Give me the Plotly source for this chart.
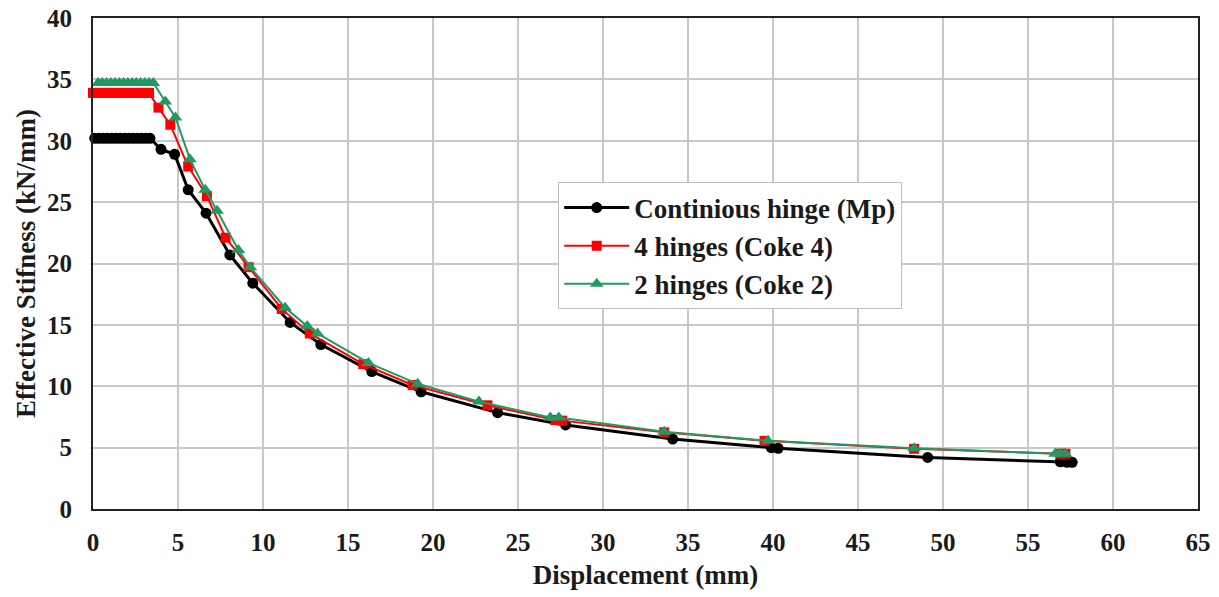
import plotly.graph_objects as go

# Continious hinge (Mp)
mp_x = [0.1, 0.35, 0.6, 0.85, 1.1, 1.35, 1.6, 1.85, 2.1, 2.35, 2.6, 2.85, 3.1, 3.35,
        4.0, 4.8, 5.6, 6.65, 8.05, 9.4, 11.6, 13.4, 16.4, 19.3, 23.8, 27.8, 34.1,
        39.9, 40.3, 49.1, 56.9, 57.3, 57.6]
mp_y = [30.2, 30.2, 30.2, 30.2, 30.2, 30.2, 30.2, 30.2, 30.2, 30.2, 30.2, 30.2, 30.2, 30.2,
        29.3, 28.9, 26.0, 24.1, 20.7, 18.4, 15.2, 13.4, 11.2, 9.55, 7.85, 6.85, 5.7,
        5.0, 4.95, 4.2, 3.85, 3.8, 3.8]

# 4 hinges (Coke 4)
c4_x = [0.0, 0.3, 0.6, 0.9, 1.2, 1.5, 1.8, 2.1, 2.4, 2.7, 3.0, 3.3,
        3.85, 4.55, 5.6, 6.7, 7.8, 9.15, 11.1, 12.75, 15.9, 18.8, 23.2, 27.2, 27.6,
        33.6, 39.5, 48.3, 56.9, 57.2]
c4_y = [33.9, 33.9, 33.9, 33.9, 33.9, 33.9, 33.9, 33.9, 33.9, 33.9, 33.9, 33.9,
        32.7, 31.3, 27.9, 25.5, 22.1, 19.7, 16.3, 14.3, 11.8, 10.1, 8.45, 7.25, 7.2,
        6.25, 5.55, 4.9, 4.5, 4.5]

# 2 hinges (Coke 2)
c2_x = [0.3, 0.55, 0.8, 1.05, 1.3, 1.55, 1.8, 2.05, 2.3, 2.55, 2.8, 3.05, 3.3, 3.55,
        4.25, 4.85, 5.7, 6.6, 7.3, 8.55, 9.25, 11.3, 12.6, 13.2, 16.2, 19.1, 22.7,
        26.9, 27.4, 33.6, 39.7, 48.3, 56.6, 56.9, 57.2]
c2_y = [34.7, 34.7, 34.7, 34.7, 34.7, 34.7, 34.7, 34.7, 34.7, 34.7, 34.7, 34.7, 34.7, 34.7,
        33.2, 31.9, 28.5, 26.0, 24.3, 21.1, 19.7, 16.4, 14.9, 14.3, 11.9, 10.2, 8.75,
        7.45, 7.45, 6.3, 5.55, 4.95, 4.5, 4.5, 4.5]

x_ticks = [0, 5, 10, 15, 20, 25, 30, 35, 40, 45, 50, 55, 60, 65]
y_ticks = [0, 5, 10, 15, 20, 25, 30, 35, 40]

FONT = "Liberation Serif, Times New Roman, serif"
GREEN = "#1f9a62"
TXT = "#1a1a1a"

fig = go.Figure()
fig.add_trace(go.Scatter(x=mp_x, y=mp_y, mode="lines+markers", name="Continious hinge (Mp)",
                         cliponaxis=False,
                         line=dict(color="black", width=3),
                         marker=dict(symbol="circle", size=11, color="black")))
fig.add_trace(go.Scatter(x=c4_x, y=c4_y, mode="lines+markers", name="4 hinges (Coke 4)",
                         cliponaxis=False,
                         line=dict(color="#ff0000", width=2),
                         marker=dict(symbol="square", size=10, color="#ff0000")))
fig.add_trace(go.Scatter(x=c2_x, y=c2_y, mode="lines+markers", name="2 hinges (Coke 2)",
                         cliponaxis=False,
                         line=dict(color=GREEN, width=2),
                         marker=dict(symbol="triangle-up", size=12, color=GREEN)))

axis_common = dict(
    showgrid=True, gridcolor="#c8c8c8", gridwidth=2,
    showline=True, linecolor="#222222", linewidth=2, mirror=True,
    zeroline=False, ticks="", automargin=False,
    tickfont=dict(family=FONT, size=25, color=TXT, weight="bold"),
)

fig.update_xaxes(range=[0, 65], tickmode="array", tickvals=x_ticks,
                 ticktext=[str(v) for v in x_ticks], ticklabelstandoff=10,
                 title=dict(text="Displacement (mm)", standoff=10,
                            font=dict(family=FONT, size=27, color=TXT, weight="bold")),
                 **axis_common)
fig.update_yaxes(range=[0, 40], tickmode="array", tickvals=y_ticks,
                 ticktext=[str(v) for v in y_ticks], ticklabelstandoff=14,
                 title=dict(text="Effective Stifness (kN/mm)", standoff=4,
                            font=dict(family=FONT, size=27, color=TXT, weight="bold")),
                 **axis_common)

fig.update_layout(
    width=1219, height=597,
    margin=dict(l=93, r=21, t=18, b=88),
    plot_bgcolor="white", paper_bgcolor="white",
    legend=dict(x=0.421, y=0.665, xanchor="left", yanchor="top",
                bgcolor="white", bordercolor="#bfbfbf", borderwidth=1,
                itemwidth=65,
                font=dict(family=FONT, size=27, color=TXT, weight="bold")),
)

fig.write_html("out.html")
